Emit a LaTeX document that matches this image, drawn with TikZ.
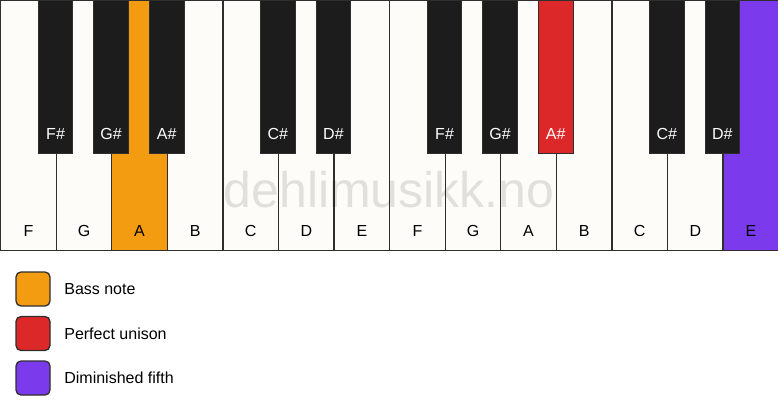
\documentclass[tikz,border=0pt]{standalone}
\usepackage{fontspec}
\setmainfont{Liberation Sans}
\usetikzlibrary{positioning}

\definecolor{keywhite}{HTML}{FDFCF9}
\definecolor{keyblack}{HTML}{1C1C1C}
\definecolor{keyline}{HTML}{2E2E2E}
\definecolor{bassorange}{HTML}{F39C12}
\definecolor{unisonred}{HTML}{DC2828}
\definecolor{fifthpurple}{HTML}{7C3AED}

\begin{document}
\begin{tikzpicture}[x=1pt,y=-1pt]
    \tikzset{
        whitekey/.style={
            draw=keyline, line width=1.3pt, inner sep=0pt,
            minimum width=55.57pt, minimum height=250pt, anchor=north west,
        },
        blackkey/.style={
            draw=keyline, line width=1pt, inner sep=0pt,
            minimum width=34.7pt, minimum height=153pt, anchor=north,
        },
        keytext/.style={font=\fontsize{16}{18}\selectfont, inner sep=0pt},
        legendbox/.style={
            draw=keyline, line width=1.3pt, rounded corners=5pt,
            minimum size=34pt, inner sep=0pt,
        },
        legendtext/.style={font=\fontsize{16}{18}\selectfont, inner sep=0pt, anchor=west},
        watermark/.style={font=\fontsize{50}{52}\selectfont, text=black, text opacity=0.11, inner sep=0pt},
    }

    \useasboundingbox (0,0) rectangle (778,417);

    % White keys
    \foreach \n/\c [count=\i from 0] in {F/keywhite, G/keywhite, A/bassorange, B/keywhite,
        C/keywhite, D/keywhite, E/keywhite, F/keywhite, G/keywhite, A/keywhite,
        B/keywhite, C/keywhite, D/keywhite, E/fifthpurple} {
        \node[whitekey, fill=\c] (w\i) at (\i*55.57,0) {};
        \node[keytext] (lw\i) at ([yshift=20pt]w\i.south) {\n};
    }

    % Black keys
    \foreach \n/\c/\k in {F\#/keyblack/1, G\#/keyblack/2, A\#/keyblack/3,
        C\#/keyblack/5, D\#/keyblack/6, F\#/keyblack/8, G\#/keyblack/9,
        A\#/unisonred/10, C\#/keyblack/12, D\#/keyblack/13} {
        \node[blackkey, fill=\c] (b\k) at (\k*55.57,0) {};
        \node[keytext, text=white] (lb\k) at ([yshift=20pt]b\k.south) {\n};
    }

    % Watermark
    \node[watermark] (mark) at (389,190) {dehlimusikk.no};

    % Legend
    \node[legendbox, fill=bassorange] (bass) at (33,289) {};
    \node[legendtext, right=13.5pt of bass] (basstext) {Bass note};
    \node[legendbox, fill=unisonred] (unison) at (33,333.5) {};
    \node[legendtext, right=13.5pt of unison] (unisontext) {Perfect unison};
    \node[legendbox, fill=fifthpurple] (fifth) at (33,378) {};
    \node[legendtext, right=13.5pt of fifth] (fifthtext) {Diminished fifth};

\end{tikzpicture}
\end{document}
